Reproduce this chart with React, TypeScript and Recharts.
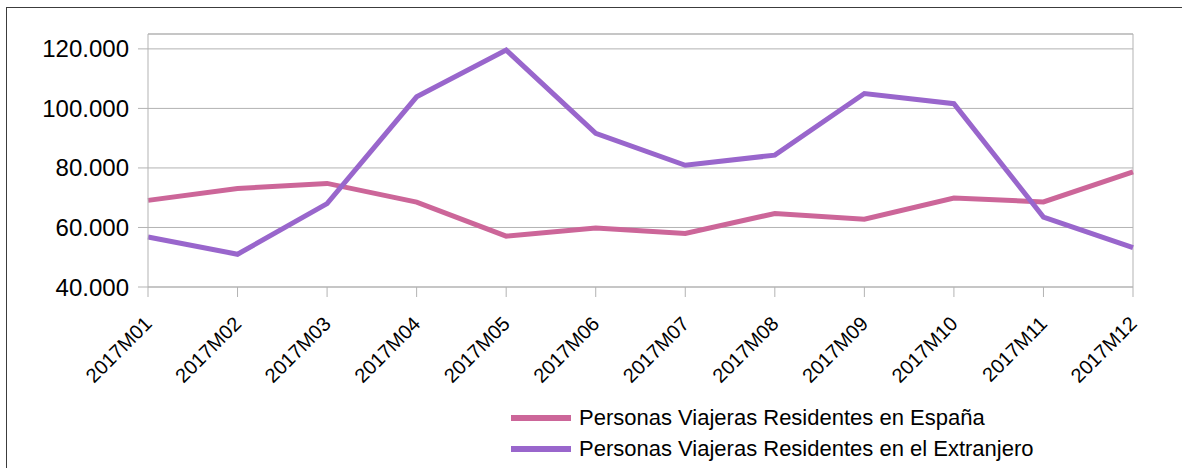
import React from 'react';
import { LineChart, Line, XAxis, YAxis, CartesianGrid, ReferenceLine, Legend } from 'recharts';

const months = ['2017M01', '2017M02', '2017M03', '2017M04', '2017M05', '2017M06', '2017M07', '2017M08', '2017M09', '2017M10', '2017M11', '2017M12'];
const espana = [69100, 73100, 74800, 68500, 57100, 59800, 58000, 64700, 62800, 69900, 68600, 78700];
const extranjero = [56800, 51000, 68000, 103900, 119600, 91600, 80900, 84300, 105000, 101600, 63500, 53200];
const yTicks = [40000, 60000, 80000, 100000, 120000];
const seriesNames = ['Personas Viajeras Residentes en España', 'Personas Viajeras Residentes en el Extranjero'];
const seriesColors = ['#cc6699', '#9966cc'];

const data = months.map((m, i) => ({ month: m, espana: espana[i], extranjero: extranjero[i] }));

const FONT = '"Liberation Sans", Arial, sans-serif';
const GRID = '#b3b3b3';

const fmt = (v: number) => {
  const s = String(Math.round(v));
  return s.replace(/\B(?=(\d{3})+(?!\d))/g, '.');
};

const XTick = (props: any) => {
  const { x, y, payload } = props;
  const ax = x + 5;
  const ay = y + 28;
  return (
    <text x={ax} y={ay} transform={`rotate(-45, ${ax}, ${ay})`} textAnchor="end" fontSize={20} fontFamily={FONT} fill="#000">
      {payload.value}
    </text>
  );
};

const LegendContent = () => (
  <div style={{ fontFamily: FONT, fontSize: 22, color: '#000' }}>
    {seriesNames.map((n, i) => (
      <div key={n} style={{ display: 'flex', alignItems: 'center', height: 31 }}>
        <div style={{ width: 60, height: 6, background: seriesColors[i], marginRight: 8 }} />
        <span style={{ whiteSpace: 'nowrap' }}>{n}</span>
      </div>
    ))}
  </div>
);

export default function App() {
  return (
    <div style={{ position: 'absolute', left: 0, top: 0, width: 1182, height: 468, overflow: 'hidden', background: '#fff' }}>
      <div style={{ position: 'absolute', left: 6, top: 7, width: 1300, height: 600, border: '1px solid #3c3c3c' }} />
      <div style={{ position: 'absolute', left: 0, top: 0 }}>
        <LineChart width={1182} height={468} data={data} margin={{ top: 34, right: 49, bottom: 0, left: 0 }}>
          <CartesianGrid vertical={false} stroke={GRID} strokeWidth={1} />
          <XAxis
            dataKey="month"
            height={181}
            axisLine={{ stroke: GRID }}
            tickLine={{ stroke: GRID }}
            tickSize={10}
            tickMargin={0}
            interval={0}
            tick={<XTick />}
          />
          <YAxis
            width={148}
            domain={[40000, 125000]}
            ticks={yTicks}
            tickFormatter={fmt}
            axisLine={{ stroke: GRID }}
            tickLine={{ stroke: GRID }}
            tickSize={10}
            tickMargin={9}
            tick={{ fontSize: 24, fontFamily: FONT, fill: '#000' }}
          />
          <ReferenceLine y={125000} stroke={GRID} />
          <ReferenceLine x="2017M12" stroke={GRID} />
          <Line dataKey="espana" name={seriesNames[0]} stroke={seriesColors[0]} strokeWidth={5} dot={false} isAnimationActive={false} />
          <Line dataKey="extranjero" name={seriesNames[1]} stroke={seriesColors[1]} strokeWidth={5} dot={false} isAnimationActive={false} />
          <Legend
            layout="vertical"
            align="center"
            verticalAlign="middle"
            content={<LegendContent />}
            wrapperStyle={{ left: 511, top: 402, width: 640, height: 64 }}
          />
        </LineChart>
      </div>
    </div>
  );
}
